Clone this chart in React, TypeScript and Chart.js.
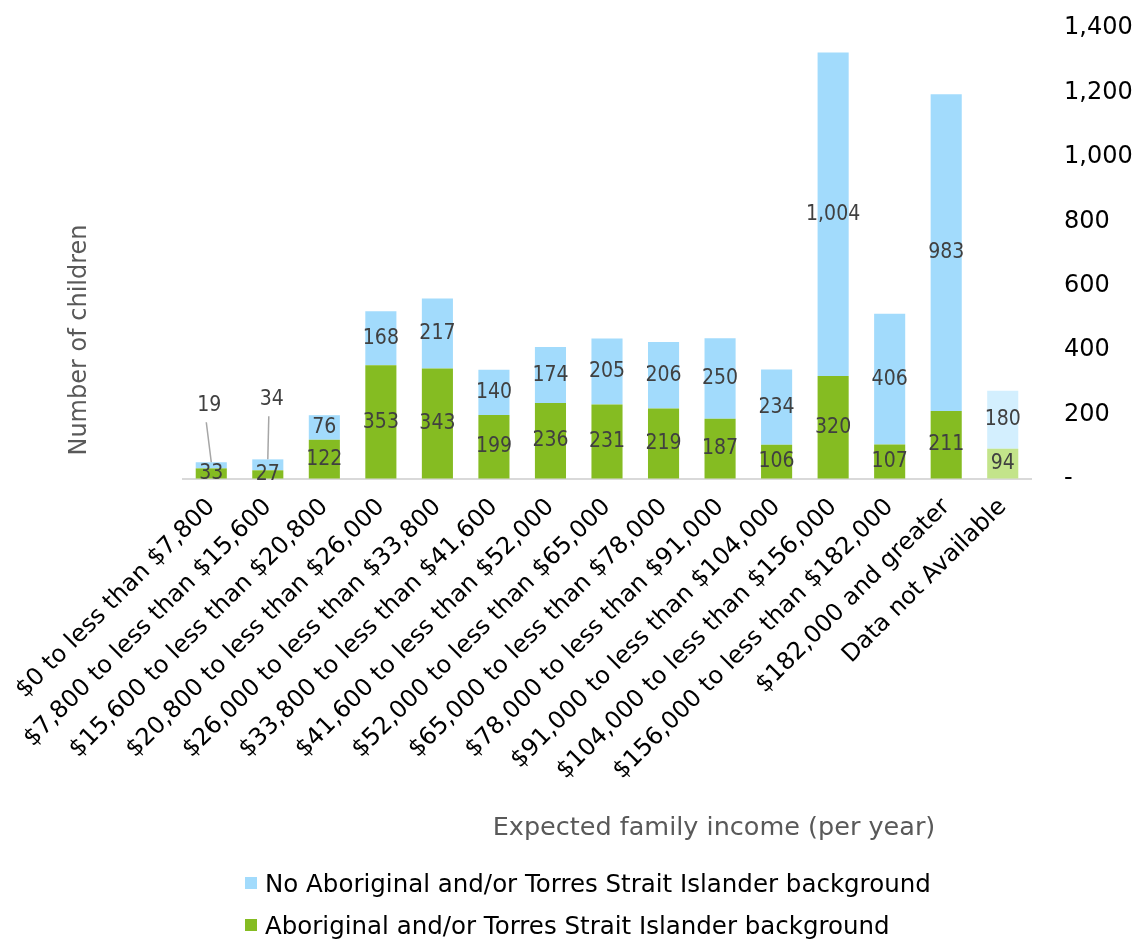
import React, { useEffect, useRef } from 'react';
import { Chart, registerables } from 'chart.js';

Chart.register(...registerables);

const categories = [
  '$0 to less than $7,800',
  '$7,800 to less than $15,600',
  '$15,600 to less than $20,800',
  '$20,800 to less than $26,000',
  '$26,000 to less than $33,800',
  '$33,800 to less than $41,600',
  '$41,600 to less than $52,000',
  '$52,000 to less than $65,000',
  '$65,000 to less than $78,000',
  '$78,000 to less than $91,000',
  '$91,000 to less than $104,000',
  '$104,000 to less than $156,000',
  '$156,000 to less than $182,000',
  '$182,000 and greater',
  'Data not Available',
];

const aboriginal = [33, 27, 122, 353, 343, 199, 236, 231, 219, 187, 106, 320, 107, 211, 94];
const nonAboriginal = [19, 34, 76, 168, 217, 140, 174, 205, 206, 250, 234, 1004, 406, 983, 180];

const yTickValues = [0, 200, 400, 600, 800, 1000, 1200, 1400];

const seriesNames = [
  'No Aboriginal and/or Torres Strait Islander background',
  'Aboriginal and/or Torres Strait Islander background',
];

const BLUE = '#a2dbfc';
const BLUE_LIGHT = '#d3effe';
const GREEN = '#85bc22';
const GREEN_LIGHT = '#c3e48a';
const FONT = "'DejaVu Sans', Verdana, sans-serif";

const lastIdx = categories.length - 1;
const colorsFor = (main: string, light: string) => categories.map((_, i) => (i === lastIdx ? light : main));

const fmt = (v: number) => (v === 0 ? '-' : v.toLocaleString('en-US'));

const labelsPlugin = {
  id: 'segLabels',
  afterDatasetsDraw(chart: any) {
    const ctx = chart.ctx;
    const callouts: Record<number, { dx: number; dy: number }> = {
      0: { dx: -2, dy: -57 },
      1: { dx: 4, dy: -60 },
    };
    const drawText = (text: string, x: number, y: number) => {
      ctx.save();
      ctx.translate(x, y);
      ctx.scale(0.86, 1);
      ctx.fillText(text, 0, 0);
      ctx.restore();
    };
    ctx.save();
    ctx.font = `22px ${FONT}`;
    ctx.fillStyle = '#404040';
    ctx.textAlign = 'center';
    ctx.textBaseline = 'middle';
    chart.data.datasets.forEach((ds: any, di: number) => {
      const meta = chart.getDatasetMeta(di);
      meta.data.forEach((el: any, i: number) => {
        const text = fmt(ds.data[i]);
        if (ds.callout && callouts[i]) {
          const c = callouts[i];
          const lx = el.x + c.dx;
          const ly = el.y + c.dy;
          drawText(text, lx, ly);
          ctx.beginPath();
          ctx.strokeStyle = '#a6a6a6';
          ctx.lineWidth = 1.5;
          ctx.moveTo(lx - 3, ly + 17);
          ctx.lineTo(el.x, el.y);
          ctx.stroke();
        } else {
          drawText(text, el.x, (el.y + el.base) / 2);
        }
      });
    });
    ctx.restore();
  },
};

const titlesPlugin = {
  id: 'axisTitles',
  afterDraw(chart: any) {
    const ctx = chart.ctx;
    ctx.save();
    ctx.fillStyle = '#595959';
    ctx.textAlign = 'center';
    ctx.textBaseline = 'middle';
    ctx.font = `25.5px ${FONT}`;
    ctx.fillText('Expected family income (per year)', 714, 828);
    ctx.font = `24px ${FONT}`;
    ctx.translate(80, 340);
    ctx.rotate(-Math.PI / 2);
    ctx.fillText('Number of children', 0, 0);
    ctx.restore();
  },
};

export default function App() {
  const ref = useRef<HTMLCanvasElement | null>(null);

  useEffect(() => {
    if (!ref.current) return;
    const chart = new Chart(ref.current, {
      type: 'bar',
      data: {
        labels: categories,
        datasets: [
          {
            label: seriesNames[1],
            data: aboriginal,
            backgroundColor: colorsFor(GREEN, GREEN_LIGHT),
            barPercentage: 0.55,
            categoryPercentage: 1,
          } as any,
          {
            label: seriesNames[0],
            data: nonAboriginal,
            backgroundColor: colorsFor(BLUE, BLUE_LIGHT),
            barPercentage: 0.55,
            categoryPercentage: 1,
            callout: true,
          } as any,
        ],
      },
      options: {
        animation: false,
        responsive: false,
        maintainAspectRatio: false,
        layout: { padding: { left: 183, top: 28, right: 0, bottom: 0 } },
        plugins: {
          legend: { display: false },
          tooltip: { enabled: false },
          title: { display: false },
        },
        scales: {
          x: {
            stacked: true,
            grid: { display: false, drawTicks: false },
            border: { display: true, color: '#d9d9d9', width: 2 },
            ticks: {
              autoSkip: false,
              maxRotation: 45,
              minRotation: 45,
              padding: 14,
              color: '#000000',
              font: { family: FONT, size: 24 },
            },
            afterFit: (scale: any) => {
              scale.height = 941 - 479;
            },
          },
          y: {
            stacked: true,
            position: 'right',
            min: 0,
            max: 1400,
            grid: {
              display: true,
              drawOnChartArea: false,
              drawTicks: true,
              tickLength: 33,
              color: 'rgba(0,0,0,0)',
              tickColor: 'rgba(0,0,0,0)',
            },
            border: { display: false },
            afterBuildTicks: (scale: any) => {
              scale.ticks = yTickValues.map((v) => ({ value: v }));
            },
            ticks: {
              padding: 0,
              color: '#000000',
              font: { family: FONT, size: 24 },
              callback: (v: any) => fmt(Number(v)),
            },
            afterFit: (scale: any) => {
              scale.width = 1136 - 1031;
            },
          },
        },
      },
      plugins: [labelsPlugin, titlesPlugin],
    });
    return () => chart.destroy();
  }, []);

  const legendItems = [
    { name: seriesNames[0], color: BLUE },
    { name: seriesNames[1], color: GREEN },
  ];

  return (
    <div style={{ position: 'fixed', left: 0, top: 0, width: 1136, height: 941, background: '#ffffff' }}>
      <canvas ref={ref} width={1136} height={941} style={{ display: 'block' }} />
      <div style={{ position: 'absolute', left: 245, top: 862, fontFamily: FONT, fontSize: 24.5, color: '#000' }}>
        {legendItems.map((it) => (
          <div key={it.name} style={{ display: 'flex', alignItems: 'center', height: 42, whiteSpace: 'nowrap' }}>
            <span style={{ display: 'inline-block', width: 12, height: 12, background: it.color, marginRight: 8 }} />
            <span>{it.name}</span>
          </div>
        ))}
      </div>
    </div>
  );
}
